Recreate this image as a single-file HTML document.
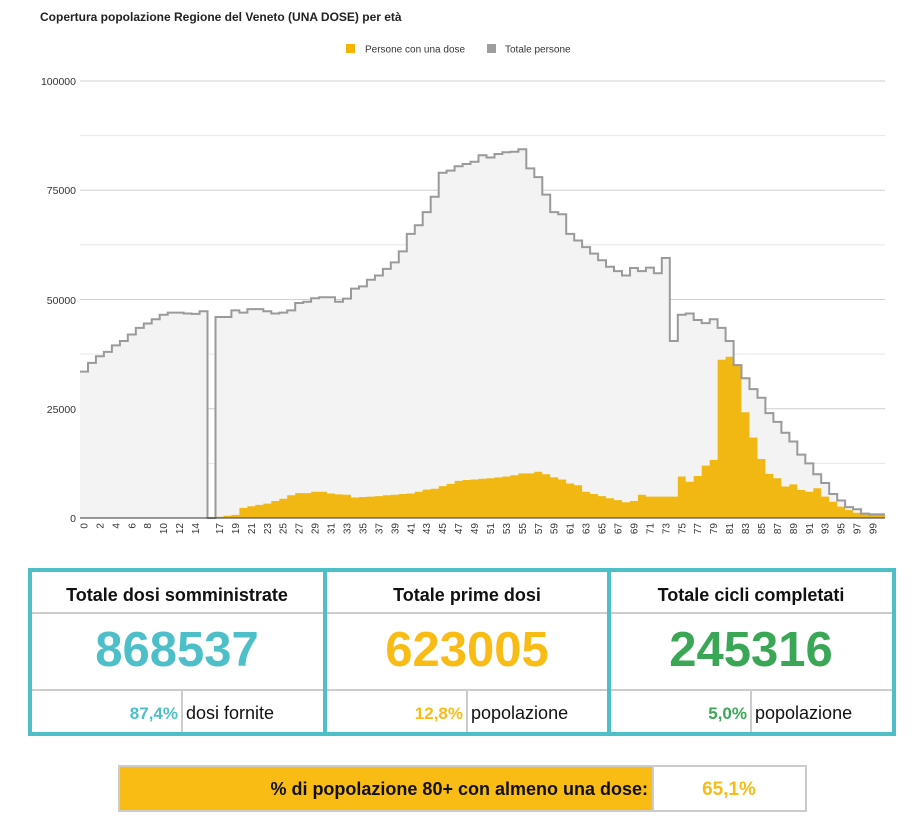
<!DOCTYPE html>
<html><head><meta charset="utf-8"><style>
html,body{margin:0;padding:0;background:#fff;width:921px;height:835px;overflow:hidden}
svg{display:block}
text{font-family:"Liberation Sans",Arial,sans-serif}
</style></head><body>
<svg id="s" width="921" height="835" viewBox="0 0 921 835" xmlns="http://www.w3.org/2000/svg">
<rect width="921" height="835" fill="#fff"/>
<text x="40" y="21" font-size="12" font-weight="bold" fill="#222">Copertura popolazione Regione del Veneto (UNA DOSE) per età</text>
<rect x="346" y="44" width="9" height="9" fill="#f4b400"/>
<text x="365" y="52.5" font-size="10" fill="#333">Persone con una dose</text>
<rect x="487" y="44" width="9" height="9" fill="#9e9e9e"/>
<text x="505" y="52.5" font-size="10" fill="#333">Totale persone</text>
<g id="grid"></g>
<g font-size="10.5" fill="#333" text-anchor="end">
<text x="76" y="85">100000</text><text x="76" y="194">75000</text><text x="76" y="304">50000</text><text x="76" y="413">25000</text><text x="76" y="522">0</text>
</g>
<path id="gfill" fill="#f3f3f3"/>
<path id="yfill" fill="#f1b814"/>
<path id="gline" fill="none" stroke="#9a9a9a" stroke-width="2"/>
<line x1="80" y1="518" x2="885" y2="518" stroke="#333" stroke-width="1"/>
<g id="xl" font-size="10" fill="#333"></g>

<rect x="30" y="570" width="864" height="164" fill="#fff" stroke="#4dbfc9" stroke-width="4"/>
<line x1="325" y1="570" x2="325" y2="734" stroke="#4dbfc9" stroke-width="4"/>
<line x1="609" y1="570" x2="609" y2="734" stroke="#4dbfc9" stroke-width="4"/>
<g stroke="#cccccc" stroke-width="2">
<line x1="32" y1="613" x2="323" y2="613"/><line x1="327" y1="613" x2="607" y2="613"/><line x1="611" y1="613" x2="892" y2="613"/>
<line x1="32" y1="690" x2="323" y2="690"/><line x1="327" y1="690" x2="607" y2="690"/><line x1="611" y1="690" x2="892" y2="690"/>
<line x1="182" y1="690" x2="182" y2="732"/><line x1="467" y1="690" x2="467" y2="732"/><line x1="751" y1="690" x2="751" y2="732"/>
</g>
<g font-size="18" font-weight="bold" fill="#111" text-anchor="middle">
<text x="177" y="601">Totale dosi somministrate</text>
<text x="467" y="601">Totale prime dosi</text>
<text x="751" y="601">Totale cicli completati</text>
</g>
<g font-size="49" font-weight="bold" text-anchor="middle">
<text x="177" y="666" fill="#4dbfc9">868537</text>
<text x="467" y="666" fill="#f9bc15">623005</text>
<text x="751" y="666" fill="#3aa757">245316</text>
</g>
<g font-size="17" font-weight="bold" text-anchor="end">
<text x="178" y="719" fill="#4dbfc9">87,4%</text>
<text x="463" y="719" fill="#f9bc15">12,8%</text>
<text x="747" y="719" fill="#3aa757">5,0%</text>
</g>
<g font-size="18" fill="#111">
<text x="186" y="719">dosi fornite</text>
<text x="471" y="719">popolazione</text>
<text x="755" y="719">popolazione</text>
</g>

<rect x="119" y="766" width="534" height="45" fill="#f9bc15" stroke="#cccccc" stroke-width="2"/>
<rect x="653" y="766" width="153" height="45" fill="#fff" stroke="#cccccc" stroke-width="2"/>
<text x="648" y="795" font-size="18" font-weight="bold" fill="#111" text-anchor="end">% di popolazione 80+ con almeno una dose:</text>
<text x="729" y="795" font-size="19" font-weight="bold" fill="#f9bc15" text-anchor="middle">65,1%</text>
</svg>
<script>
var T=[33500,35500,37000,38000,39500,40500,42000,43500,44500,45500,46500,47000,47000,46800,46700,47300,0,46000,46000,47500,47000,47800,47800,47300,46800,47000,47500,49200,49500,50300,50500,50500,49500,50200,52500,53000,54500,55500,57000,58500,61000,65000,67000,70000,73500,79000,79500,80500,81000,81500,83000,82500,83300,83700,83800,84400,80000,78000,74000,70000,69500,65000,63500,62000,60500,59000,57500,56500,55500,57200,56500,57300,56000,59500,40500,46500,46800,45300,44600,45500,43500,40500,35000,32000,29500,27500,24000,22000,19500,17500,14500,12500,10000,8000,5500,4000,2500,2000,1000,800,800];
var Y=[0,0,0,0,0,0,0,0,0,0,0,0,0,0,0,0,0,300,500,700,2300,2700,3000,3300,3900,4400,5200,5700,5700,6000,6000,5600,5400,5300,4700,4800,4900,5000,5200,5300,5500,5600,6000,6500,6700,7300,7800,8500,8700,8800,9000,9100,9300,9500,9800,10200,10200,10600,10000,9300,8800,7900,7500,6000,5500,5000,4500,4100,3600,3900,5300,4900,4900,4900,4900,9500,8300,9600,12000,13300,36200,36900,35200,24200,18400,13500,10100,9100,7200,7700,6400,6000,6800,4900,3700,2600,1800,1200,900,1100,1100];
var x0=80,w=(885-80)/101,base=518,k=437/100000;
function yy(v){return (base-v*k).toFixed(1)}
function step(a){var d="";for(var i=0;i<a.length;i++){var xa=(x0+i*w).toFixed(1),xb=(x0+(i+1)*w).toFixed(1);d+=(i?"L":"M")+xa+" "+yy(a[i])+"L"+xb+" "+yy(a[i]);}return d}
var g=step(T),yl=step(Y);
document.getElementById("gline").setAttribute("d",g);
document.getElementById("gfill").setAttribute("d",g+"L885 518L80 518Z");
document.getElementById("yfill").setAttribute("d",yl+"L885 518L80 518Z");
var gr="";for(var j=0;j<8;j++){var yv=81+j*437/8;gr+='<line x1="80" x2="885" y1="'+yv.toFixed(1)+'" y2="'+yv.toFixed(1)+'" stroke="'+(j%2==0?"#cfcfcf":"#e6e6e6")+'" stroke-width="1"/>';}
document.getElementById("grid").innerHTML=gr;
var xl="";for(var i=0;i<=100;i++){if((i<=14&&i%2==0)||(i>=17&&i%2==1)){var cx=x0+(i+0.5)*w+3.5;xl+='<text transform="translate('+cx.toFixed(1)+' 523) rotate(-90)" text-anchor="end">'+i+'</text>';}}
document.getElementById("xl").innerHTML=xl;
</script>
</body></html>
